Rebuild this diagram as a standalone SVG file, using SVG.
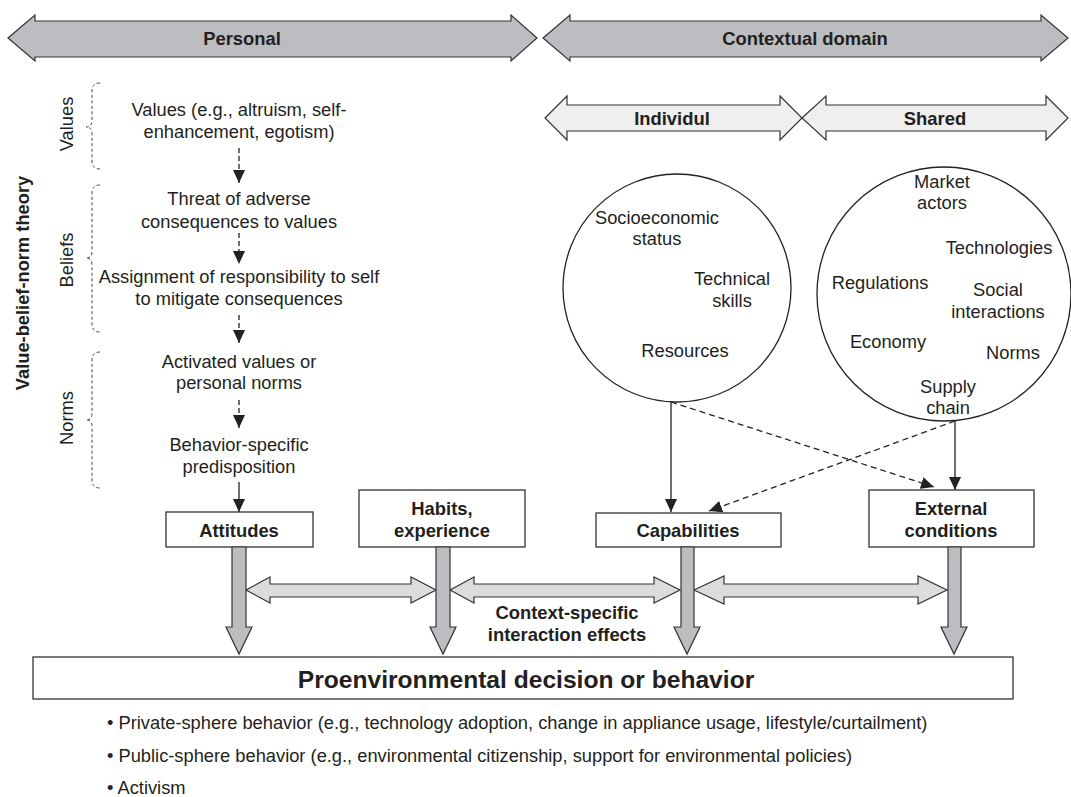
<svg xmlns="http://www.w3.org/2000/svg" width="1071" height="797" viewBox="0 0 1071 797">
<defs>
<style>
text{font-family:"Liberation Sans",Arial,sans-serif;fill:#231f20}
.t{font-size:18.3px;text-anchor:middle}
.lb{font-size:18.3px;text-anchor:middle}
.c{font-size:18.3px;text-anchor:middle}
.b{font-size:18.4px;font-weight:bold;text-anchor:middle}
.bb{font-size:18.4px;font-weight:bold;text-anchor:middle}
.dk{fill:#bcbdc0;stroke:#333;stroke-width:1.2}
.lt{fill:#dcdcdc;stroke:#333;stroke-width:1.2}
.xl{fill:#efefef;stroke:#333;stroke-width:1.2}
.box{fill:#fff;stroke:#333;stroke-width:1.3}
.ln{stroke:#222;stroke-width:1.3;fill:none}
.dsh{stroke:#222;stroke-width:1.3;fill:none;stroke-dasharray:6,4}
.vd{stroke:#222;stroke-width:1.3;fill:none;stroke-dasharray:5,3}
.br{stroke:#444;stroke-width:1;fill:none;stroke-dasharray:3,2.5}
.bul{font-size:18.3px}
</style>
<marker id="ah" markerUnits="userSpaceOnUse" markerWidth="14" markerHeight="12" refX="13" refY="6" orient="auto">
<path d="M0,0 L13,6 L0,12 z" fill="#222"/>
</marker>
</defs>

<g id="personal-band">
<polygon class="dk" points="8,38 35,15 35,21 511,21 511,15 537,38 511,61 511,57 35,57 35,61"/>
<text class="b" x="242" y="44.5">Personal</text>
</g>
<g id="contextual-band">
<polygon class="dk" points="543,38 570,15 570,21 1041,21 1041,15 1068,38 1041,61 1041,57 570,57 570,61"/>
<text class="b" x="805" y="44.5">Contextual domain</text>
</g>
<g id="individual-band">
<polygon class="xl" points="545,118 567,96 567,105 780,105 780,96 802,118 780,140 780,131 567,131 567,140"/>
<text class="b" x="672" y="124.5">Individul</text>
</g>
<g id="shared-band">
<polygon class="xl" points="802,118 826,96 826,105 1046,105 1046,96 1068,118 1046,140 1046,131 826,131 826,140"/>
<text class="b" x="935" y="124.5">Shared</text>
</g>

<g id="vbn-label">
<text font-size="18.3" font-weight="bold" text-anchor="middle" transform="translate(29,283) rotate(-90)">Value-belief-norm theory</text>
</g>
<g id="values-brace">
<path class="br" d="M100,83 Q92,83 92,91 L92,120 Q92,127 86,127 Q92,127 92,134 L92,161 Q92,169 100,169"/>
<text class="lb" transform="translate(73,124) rotate(-90)">Values</text>
</g>
<g id="beliefs-brace">
<path class="br" d="M100,185 Q92,185 92,193 L92,251 Q92,258 86,258 Q92,258 92,265 L92,324 Q92,332 100,332"/>
<text class="lb" transform="translate(73,260) rotate(-90)">Beliefs</text>
</g>
<g id="norms-brace">
<path class="br" d="M100,352 Q92,352 92,360 L92,413 Q92,420 86,420 Q92,420 92,427 L92,480 Q92,488 100,488"/>
<text class="lb" transform="translate(73,418) rotate(-90)">Norms</text>
</g>

<g id="values">
<text class="t" x="239" y="116">Values (e.g., altruism, self-</text>
<text class="t" x="239" y="138">enhancement, egotism)</text>
</g>
<g id="threat">
<text class="t" x="239" y="205">Threat of adverse</text>
<text class="t" x="239" y="228">consequences to values</text>
</g>
<g id="assignment">
<text class="t" x="239" y="283">Assignment of responsibility to self</text>
<text class="t" x="239" y="305">to mitigate consequences</text>
</g>
<g id="activated">
<text class="t" x="239" y="368">Activated values or</text>
<text class="t" x="239" y="389">personal norms</text>
</g>
<g id="predisposition">
<text class="t" x="239" y="451">Behavior-specific</text>
<text class="t" x="239" y="473">predisposition</text>
</g>

<g id="individual-circle">
<circle cx="677" cy="288" r="114" fill="#fff" stroke="#222" stroke-width="1.3"/>
<text class="c" x="657" y="224">Socioeconomic</text>
<text class="c" x="657" y="245">status</text>
<text class="c" x="732" y="285">Technical</text>
<text class="c" x="732" y="307">skills</text>
<text class="c" x="685" y="357">Resources</text>
</g>
<g id="shared-circle">
<circle cx="944" cy="294" r="127" fill="#fff" stroke="#222" stroke-width="1.3"/>
<text class="c" x="942" y="188">Market</text>
<text class="c" x="942" y="209">actors</text>
<text class="c" x="999" y="254">Technologies</text>
<text class="c" x="880" y="289">Regulations</text>
<text class="c" x="998" y="296">Social</text>
<text class="c" x="998" y="318">interactions</text>
<text class="c" x="888" y="348">Economy</text>
<text class="c" x="1013" y="359">Norms</text>
<text class="c" x="948" y="393">Supply</text>
<text class="c" x="948" y="414">chain</text>
</g>

<g id="attitudes">
<rect class="box" x="166" y="512" width="147" height="35"/>
<text class="b" x="239" y="537">Attitudes</text>
</g>
<g id="habits">
<rect class="box" x="359" y="490" width="166" height="57"/>
<text class="b" x="442" y="515">Habits,</text>
<text class="b" x="442" y="537">experience</text>
</g>
<g id="capabilities">
<rect class="box" x="596" y="513" width="185" height="34"/>
<text class="b" x="688" y="537">Capabilities</text>
</g>
<g id="external">
<rect class="box" x="869" y="490" width="165" height="57"/>
<text class="b" x="951" y="515">External</text>
<text class="b" x="951" y="537">conditions</text>
</g>
<g id="interaction-label">
<text class="bb" x="567" y="619">Context-specific</text>
<text class="bb" x="567" y="641">interaction effects</text>
</g>
<g id="outcome">
<rect class="box" x="33" y="657" width="980" height="42"/>
<text font-size="24.6" font-weight="bold" text-anchor="middle" x="526" y="688">Proenvironmental decision or behavior</text>
</g>
<g id="outcome-list">
<text class="bul" x="107" y="729">• Private-sphere behavior (e.g., technology adoption, change in appliance usage, lifestyle/curtailment)</text>
<text class="bul" x="107" y="762">• Public-sphere behavior (e.g., environmental citizenship, support for environmental policies)</text>
<text class="bul" x="107" y="794">• Activism</text>
</g>

<g id="connectors">
<line class="vd" x1="239" y1="148" x2="239" y2="183" marker-end="url(#ah)"/>
<line class="vd" x1="239" y1="233" x2="239" y2="264" marker-end="url(#ah)"/>
<line class="vd" x1="239" y1="315" x2="239" y2="343" marker-end="url(#ah)"/>
<line class="vd" x1="239" y1="400" x2="239" y2="428" marker-end="url(#ah)"/>
<line class="ln" x1="239" y1="482" x2="239" y2="512" marker-end="url(#ah)"/>
<line class="ln" x1="671" y1="402" x2="671" y2="512" marker-end="url(#ah)"/>
<line class="dsh" x1="671" y1="402" x2="934" y2="487" marker-end="url(#ah)"/>
<line class="ln" x1="955" y1="421" x2="955" y2="490" marker-end="url(#ah)"/>
<line class="dsh" x1="955" y1="421" x2="709" y2="511" marker-end="url(#ah)"/>
<polygon class="lt" points="246,590 270,577 270,584 411,584 411,577 436,590 411,603 411,597 270,597 270,603"/>
<polygon class="lt" points="450,590 474,577 474,584 654,584 654,577 680,590 654,603 654,597 474,597 474,603"/>
<polygon class="lt" points="694,590 724,576 724,584 918,584 918,576 947,590 918,604 918,597 724,597 724,604"/>
<polygon class="dk" points="232,547 246,547 246,627 252,627 239,654 226,627 232,627"/>
<polygon class="dk" points="436,547 450,547 450,627 456,627 443,654 430,627 436,627"/>
<polygon class="dk" points="681,547 694,547 694,627 700,627 687,654 674,627 681,627"/>
<polygon class="dk" points="948,547 961,547 961,627 967,627 954,654 941,627 948,627"/>
</g>
</svg>
